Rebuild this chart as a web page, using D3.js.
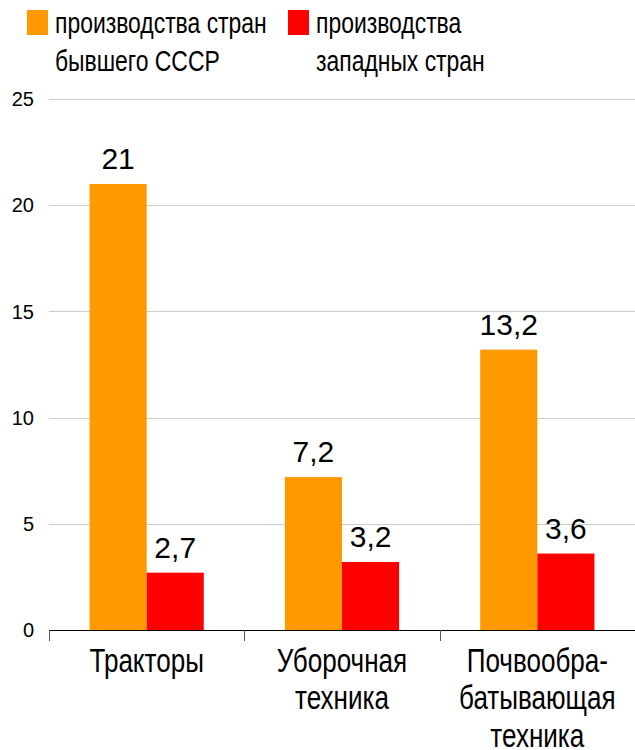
<!DOCTYPE html>
<html>
<head>
<meta charset="utf-8">
<script src="https://cdn.jsdelivr.net/npm/d3@7"></script>
<style>
  body { margin: 0; background: #fff; }
  svg text { font-family: "Liberation Sans", Arial, sans-serif; fill: #000; }
</style>
</head>
<body>
<script>
// data
const categories = [["Тракторы"], ["Уборочная", "техника"], ["Почвообра-", "батывающая", "техника"]];
const seriesNames = [["производства стран", "бывшего СССР"], ["производства", "западных стран"]];
const seriesColors = ["#ff9900", "#ff0000"];
const ussr = [21, 7.2, 13.2];
const western = [2.7, 3.2, 3.6];
const yTicks = [0, 5, 10, 15, 20, 25];

const width = 635, height = 750;
const svg = d3.select("body").append("svg")
  .attr("width", width)
  .attr("height", height);

const y = d3.scaleLinear().domain([0, 25]).range([630, 99]);
const x0 = d3.scaleBand().domain(d3.range(categories.length)).range([49, 635]);
const x1 = d3.scaleBand().domain([0, 1]).range([0, x0.bandwidth()]).paddingOuter(0.71);

// grid + y labels
svg.append("g").selectAll("line")
  .data(yTicks.filter(d => d > 0))
  .enter().append("line")
    .attr("x1", 49).attr("x2", 635)
    .attr("y1", d => Math.round(y(d)) + 0.5)
    .attr("y2", d => Math.round(y(d)) + 0.5)
    .attr("stroke", "#cccccc");

svg.append("g").selectAll("text")
  .data(yTicks)
  .enter().append("text")
    .attr("x", 34)
    .attr("y", d => y(d))
    .attr("dy", "0.36em")
    .attr("text-anchor", "end")
    .style("font-size", "20px")
    .text(d => d);

// bars
const rows = categories.map((c, i) => [ussr[i], western[i]]);
const groups = svg.append("g").selectAll("g")
  .data(rows)
  .enter().append("g")
    .attr("transform", (d, i) => `translate(${x0(i)},0)`);

groups.selectAll("rect")
  .data(d => d)
  .enter().append("rect")
    .attr("x", (d, j) => x1(j))
    .attr("width", x1.bandwidth())
    .attr("y", d => y(d))
    .attr("height", d => y(0) - y(d))
    .attr("fill", (d, j) => seriesColors[j]);

groups.selectAll("text")
  .data(d => d)
  .enter().append("text")
    .attr("x", (d, j) => x1(j) + x1.bandwidth() / 2)
    .attr("y", d => y(d) - 15)
    .attr("text-anchor", "middle")
    .style("font-size", "30px")
    .text(d => String(d).replace(".", ","));

// x axis
svg.append("line")
  .attr("x1", 49).attr("x2", 635)
  .attr("y1", 630.5).attr("y2", 630.5)
  .attr("stroke", "#000");

svg.append("g").selectAll("line")
  .data(d3.range(categories.length + 1))
  .enter().append("line")
    .attr("x1", i => Math.round(i < categories.length ? x0(i) : x0.range()[1]) + 0.5)
    .attr("x2", i => Math.round(i < categories.length ? x0(i) : x0.range()[1]) + 0.5)
    .attr("y1", 630).attr("y2", 641)
    .attr("stroke", "#555");

// the original font is a condensed one, so squeeze Liberation Sans sideways
const squeeze = 0.79;
const cat = svg.append("g").selectAll("text")
  .data(categories)
  .enter().append("text")
    .attr("transform", (d, i) => `translate(${x0(i) + x0.bandwidth() / 2},672) scale(${squeeze},1)`)
    .attr("text-anchor", "middle")
    .style("font-size", "33px");
cat.selectAll("tspan")
  .data(d => d)
  .enter().append("tspan")
    .attr("x", 0)
    .attr("dy", (d, k) => k === 0 ? 0 : 37.5)
    .text(d => d);

// legend
const legendX = [27, 288];
const leg = svg.append("g").selectAll("g")
  .data(seriesNames)
  .enter().append("g")
    .attr("transform", (d, i) => `translate(${legendX[i]},0)`);
leg.append("rect")
  .attr("x", 0).attr("y", 10)
  .attr("width", 21).attr("height", 25)
  .attr("fill", (d, i) => seriesColors[i]);
const lt = leg.append("text")
  .attr("transform", `translate(28,33) scale(${squeeze},1)`)
  .style("font-size", "29px");
lt.selectAll("tspan")
  .data(d => d)
  .enter().append("tspan")
    .attr("x", 0)
    .attr("dy", (d, k) => k === 0 ? 0 : 38)
    .text(d => d);
</script>
</body>
</html>
